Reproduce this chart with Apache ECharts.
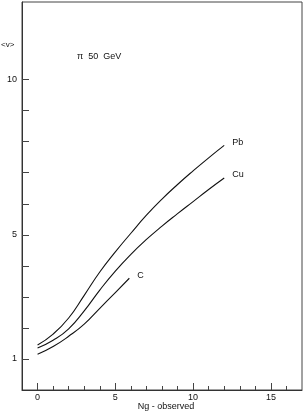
<!DOCTYPE html>
<html><head><meta charset="utf-8">
<script src="https://cdn.jsdelivr.net/npm/echarts@6/dist/echarts.min.js"></script>
<style>html,body{margin:0;padding:0;background:#fff}#c{width:304px;height:415px}</style>
</head><body><div id="c"></div>
<script>
const ngPb = [0,1,2,3,4,5,6,7,8,9,10,11,12];
const vPb  = [1.45,1.8,2.32,3.05,3.8,4.45,5.05,5.63,6.15,6.62,7.06,7.48,7.88];
const ngCu = [0,1,2,3,4,5,6,7,8,9,10,11,12];
const vCu  = [1.35,1.6,1.97,2.55,3.22,3.83,4.37,4.85,5.28,5.68,6.07,6.46,6.83];
const ngC  = [0,1,2,3,4,5,5.9];
const vC   = [1.15,1.4,1.73,2.12,2.63,3.14,3.6];
const xTickLabels = [0,5,10,15];
const yTickLabels = [1,5,10];
const xMinorTicks = [0,1,2,3,4,5,6,7,8,9,10,11,12,13,14,15,16];
const yMinorTicks = [1,2,3,4,5,6,7,8,9,10];
const seriesNames = ['Pb','Cu','C'];
const xTitle = 'Ng - observed';
const yTitle = '<v>';
const note = 'π  50  GeV';

const chart = echarts.init(document.getElementById('c'));
const font = 'Liberation Sans, Arial, sans-serif';
const zip = (a,b)=>a.map((v,i)=>[v,b[i]]);
const lineSeries = (name, xs, ys) => ({
  type:'line', name, data: zip(xs,ys), smooth:true, symbol:'none',
  lineStyle:{color:'#111', width:1.1},
  endLabel:{show:true, formatter:name, color:'#111', fontSize:9, fontFamily:font, distance:8, offset:[0,-3]}
});
chart.setOption({
  animation:false,
  grid:{left:22, right:2, top:2, bottom:25, outerBoundsMode:'none', containLabel:false, show:true, borderColor:'#444', borderWidth:1},
  xAxis:[{
    type:'value', min:-1, max:17,
    axisLine:{show:true, onZero:false, lineStyle:{color:'#333'}},
    axisTick:{show:true, inside:true, length:4, customValues:xMinorTicks, lineStyle:{color:'#444'}},
    axisLabel:{customValues:xTickLabels, color:'#111', fontSize:9, fontFamily:font, margin:3},
    splitLine:{show:false}
  },{
    type:'value', min:-1, max:17, position:'bottom',
    axisLine:{show:false}, axisLabel:{show:false}, splitLine:{show:false},
    axisTick:{show:true, inside:true, length:7, customValues:xTickLabels, lineStyle:{color:'#444'}}
  }],
  yAxis:{
    type:'value', min:0, max:12.5,
    axisLine:{show:true, onZero:false, lineStyle:{color:'#333'}},
    axisTick:{show:true, inside:true, length:7, customValues:yMinorTicks, lineStyle:{color:'#444'}},
    axisLabel:{customValues:yTickLabels, color:'#111', fontSize:9, fontFamily:font, margin:5},
    splitLine:{show:false}
  },
  graphic:[
    {type:'text', left:1, top:41, style:{text:yTitle, fill:'#111', fontSize:8, fontFamily:font}},
    {type:'text', left:77, top:52, style:{text:note, fill:'#111', fontSize:9, fontFamily:font}},
    {type:'text', x:166, y:407, style:{text:xTitle, fill:'#111', fontSize:9, fontFamily:font, align:'center', verticalAlign:'middle'}}
  ],
  series:[
    lineSeries(seriesNames[0], ngPb, vPb),
    lineSeries(seriesNames[1], ngCu, vCu),
    lineSeries(seriesNames[2], ngC, vC)
  ]
});
</script></body></html>
